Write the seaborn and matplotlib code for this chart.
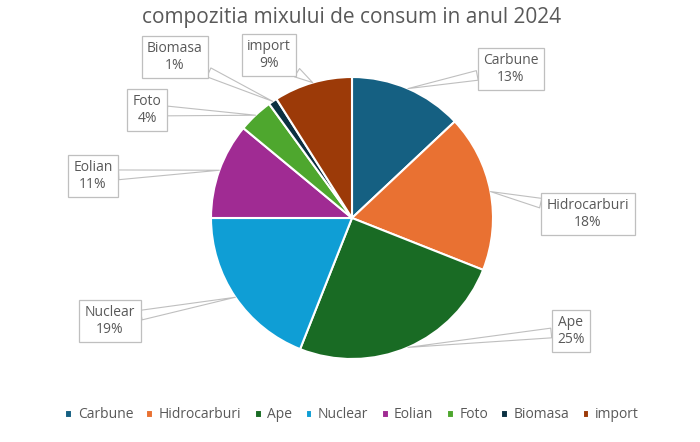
import numpy as np
import matplotlib
matplotlib.use("Agg")
import matplotlib.pyplot as plt
import seaborn as sns

sns.set_theme(style="white")
plt.rcParams['font.family'] = ['Open Sans', 'DejaVu Sans']

# data
categories = ["Carbune", "Hidrocarburi", "Ape", "Nuclear", "Eolian", "Foto", "Biomasa", "import"]
shares = [13, 18, 25, 19, 11, 4, 1, 9]
colors = ["#156082", "#E97132", "#196B24", "#0F9ED5", "#A02B93", "#4EA72E", "#0B3041", "#9C3A08"]

# label box centres in pixels (x from left, y from top)
label_px = [(511, 69), (588, 214), (571, 331), (110, 321),
            (93, 176), (147, 110), (175, 57), (269, 55)]

W, H = 700, 442
cx, cy, r = 352, 218, 141
grey = "#595959"

fig = plt.figure(figsize=(W / 100, H / 100), dpi=100)
ax = fig.add_axes([0, 0, 1, 1])

wedges, _ = ax.pie(shares, colors=colors, startangle=90, counterclock=False,
                   wedgeprops=dict(edgecolor="white", linewidth=1.5))
ax.set_xlim(-cx / r, (W - cx) / r)
ax.set_ylim(-(H - cy) / r, cy / r)
ax.set_aspect("auto")
ax.axis("off")

total = sum(shares)
for w, name, val, (px, py) in zip(wedges, categories, shares, label_px):
    mid = np.deg2rad((w.theta1 + w.theta2) / 2)
    tip = (np.cos(mid), np.sin(mid))
    txt = ((px - cx) / r, (cy - py) / r)
    ax.annotate(f"{name}\n{val / total:.0%}", xy=tip, xytext=txt,
                ha="center", va="center", fontsize=10, color=grey, linespacing=1.1,
                bbox=dict(boxstyle="square,pad=0.4", fc="white", ec="#BFBFBF", lw=0.9),
                arrowprops=dict(arrowstyle="wedge,tail_width=0.7", fc="white",
                                ec="#BFBFBF", lw=0.8, shrinkA=0, shrinkB=0))

fig.text(0.502, 1 - 18 / H, "compozitia mixului de consum in anul 2024",
         ha="center", va="center", fontsize=15, color=grey)

fig.legend(wedges, categories, loc="center", bbox_to_anchor=(0.503, 1 - 415 / H),
           ncol=8, frameon=False, fontsize=10, handlelength=0.5, handleheight=0.5,
           handletextpad=0.4, columnspacing=0.95, labelcolor=grey)

fig.savefig("out.png", dpi=100)
